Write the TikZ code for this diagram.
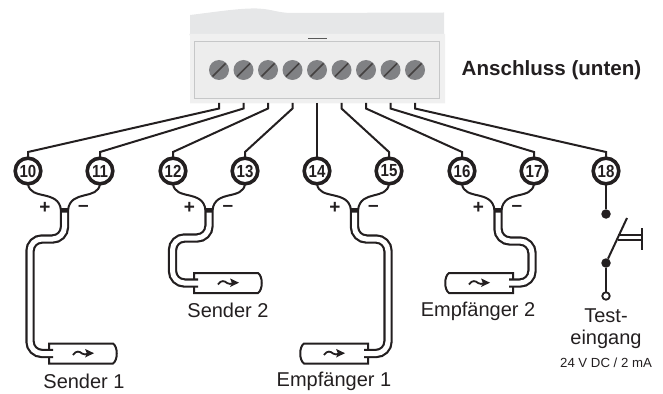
\documentclass[tikz,border=0pt]{standalone}
\usepackage{fontspec}
\setmainfont{Liberation Sans}
\definecolor{boxtop}{HTML}{E6E7E8}
\definecolor{boxbase}{HTML}{F0F0F0}
\definecolor{boxin}{HTML}{EDEDED}
\definecolor{boxedge}{HTML}{C6C7C8}
\definecolor{screwc}{HTML}{808184}
\definecolor{ink}{HTML}{231F20}
\tikzset{
  wire/.style={draw=ink,line width=2pt},
  term/.style={circle,draw=ink,fill=white,line width=3.6pt,minimum size=25.6pt,inner sep=0pt,outer sep=0pt,font=\fontsize{17.5}{17.5}\selectfont\bfseries,text=ink},
  screw/.style={circle,fill=screwc,minimum size=20pt,inner sep=0pt,outer sep=0pt},
  slot/.style={draw=ink!85,line width=1.5pt},
  label/.style={font=\fontsize{20}{20}\selectfont,text=ink,inner sep=0pt},
  small/.style={font=\fontsize{13.2}{13.2}\selectfont,text=ink,inner sep=0pt},
  pol/.style={font=\fontsize{19}{19}\selectfont\bfseries,text=ink,inner sep=0pt},
  bodyline/.style={draw=ink,line width=2pt,fill=white},
  dotb/.style={circle,fill=ink,minimum size=9.5pt,inner sep=0pt,outer sep=0pt},
  doto/.style={circle,draw=ink,fill=white,line width=1.8pt,minimum size=7.5pt,inner sep=0pt,outer sep=0pt},
  cableo/.style={draw=ink,line width=9.4pt,rounded corners=12pt},
  cablei/.style={draw=white,line width=5pt,rounded corners=12pt}
}
\newcommand{\wavearrow}[2]{%
  \draw[draw=ink,line width=1.8pt] (#1-10,#2+1.5) .. controls (#1-7,#2-3.5) and (#1-3,#2-2) .. (#1-1,#2) .. controls (#1+1,#2+1.5) and (#1+3,#2+1) .. (#1+5,#2);
  \fill[ink] (#1+11,#2-0.3) -- (#1+2,#2-4.6) -- (#1+4,#2) -- (#1+2,#2+4) -- cycle;
}
\newcommand{\sensorL}[2]{% opening at the left, round end at the right; #1 = centre x, #2 = centre y
  \draw[bodyline] (#1-34,#2-3) -- (#1-34,#2-10) -- (#1+30,#2-10) .. controls (#1+35,#2-7) and (#1+35,#2+7) .. (#1+30,#2+10) -- (#1-34,#2+10) -- (#1-34,#2+3);
  \wavearrow{#1}{#2}
}
\newcommand{\sensorR}[2]{% opening at the right, round end at the left
  \draw[bodyline] (#1+34,#2-3) -- (#1+34,#2-10) -- (#1-30,#2-10) .. controls (#1-35,#2-7) and (#1-35,#2+7) .. (#1-30,#2+10) -- (#1+34,#2+10) -- (#1+34,#2+3);
  \wavearrow{#1}{#2}
}
\begin{document}
\begin{tikzpicture}[x=1pt,y=-1pt]
\useasboundingbox (0,0) rectangle (663,393);
% housing
\fill[boxtop] (190,15) .. controls (215,12) and (240,8) .. (257,8.5) .. controls (272,9) and (278,13) .. (292,13) -- (444,12.5) -- (444,36) -- (190,36) -- cycle;
\fill[boxbase] (189,34) -- (445,34) -- (445,103.5) -- (190,103.5) -- (190,36) -- cycle;
\draw[boxedge,fill=boxin,line width=1pt] (194.5,42) rectangle (439.5,98.5);
\draw[draw=black!65,line width=1.5pt] (308,38.7) -- (326.5,38.7);
% screws
\foreach \i/\x in {0/219,1/243.5,2/268,3/292.5,4/317,5/341.5,6/366,7/390.5,8/415}{
  \node[screw] (s\i) at (\x,70) {};
  \draw[slot] (\x-6.5,76.5) -- (\x+6.5,63.5);
  \coordinate (p\i) at (\x,103);
  \coordinate (b\i) at (\x,108.5);
}
% terminals
\foreach \n/\x in {10/28,11/100,12/173,13/245,14/317,15/389,16/462,17/534,18/606}{
  \node[term] (t\n) at (\x,171) {\scalebox{.86}[1]{\n}};
  \coordinate (q\n) at (\x,152);
}
\foreach \i/\n in {0/10,1/11,2/12,3/13,5/15,6/16,7/17,8/18}{
  \draw[wire] (p\i) -- (b\i) -- (q\n) -- (t\n.north);
}
\draw[wire] (p4) -- (t14.north);
% sensors
\sensorL{83}{353.5}
\sensorL{228}{283}
\sensorR{334}{353.5}
\sensorR{479}{283}
% cables
\coordinate (c1) at (64.5,208); \coordinate (c1i) at (64.5,212.5);
\coordinate (c2) at (209,208);  \coordinate (c2i) at (209,212.5);
\coordinate (c3) at (354.5,208); \coordinate (c3i) at (354.5,212.5);
\coordinate (c4) at (498,208);  \coordinate (c4i) at (498,212.5);
% sensor 1
\draw[cableo] (c1) -- (64.5,239) -- (30,239) -- (30,353.5) -- (53,353.5);
\draw[cablei] (c1i) -- (64.5,239) -- (30,239) -- (30,353.5) -- (55,353.5);
% sensor 2
\draw[cableo] (c2) -- (209,238) -- (172.5,238) -- (172.5,283) -- (198,283);
\draw[cablei] (c2i) -- (209,238) -- (172.5,238) -- (172.5,283) -- (200,283);
% receiver 1
\draw[cableo] (c3) -- (354.5,239) -- (388,239) -- (388,353.5) -- (364,353.5);
\draw[cablei] (c3i) -- (354.5,239) -- (388,239) -- (388,353.5) -- (362,353.5);
% receiver 2
\draw[cableo] (c4) -- (498,241) -- (532,241) -- (532,283) -- (509,283);
\draw[cablei] (c4i) -- (498,241) -- (532,241) -- (532,283) -- (507,283);
% cable forks
\foreach \a/\b/\cc in {10/11/c1,12/13/c2,14/15/c3,16/17/c4}{
  \draw[wire] (t\a.south) .. controls +(2,17) and ([xshift=-6pt,yshift=19pt]\cc) .. ([xshift=-3.5pt,yshift=-2pt]\cc);
  \draw[wire] (t\b.south) .. controls +(-2,17) and ([xshift=6pt,yshift=19pt]\cc) .. ([xshift=3.5pt,yshift=-2pt]\cc);
  \node[pol] at ([xshift=-19.5pt]\cc) {+};
  \node[pol] at ([xshift=19pt,yshift=-0.5pt]\cc) {–};
}
% switch
\node[dotb] (d1) at (606,214) {};
\node[dotb] (d2) at (606,263) {};
\node[doto] (d3) at (606,296) {};
\coordinate (sw) at (627,218);
\coordinate (bl1) at (618,235);
\coordinate (bl2) at (618,240);
\coordinate (bb) at (642,228);
\coordinate (bc) at (642,249.5);
\draw[wire] (t18.south) -- (d1);
\draw[wire] (d2) -- (sw);
\draw[wire] (d2) -- (d3);
\draw[draw=ink,line width=1.3pt] (bl1) -- (bl1-|bb);
\draw[draw=ink,line width=1.3pt] (bl2) -- (bl2-|bb);
\draw[draw=ink,line width=2.2pt] (bb) -- (bc);
% labels
\node[font=\fontsize{20.6}{20.6}\selectfont\bfseries,text=ink,inner sep=0pt] (anschl) at (551.5,70) {Anschluss (unten)};
\node[label] (l1) at (84,381) {Sender 1};
\node[label] (l2) at (228,310) {Sender 2};
\node[label] (l3) at (334,381) {Empfänger 1};
\node[label] (l4) at (478,311) {Empfänger 2};
\node[label] (l5) at (606,316) {Test-};
\node[label] (l6) at (606,339) {eingang};
\node[small] (l7) at (606,363) {24 V DC / 2 mA};
\end{tikzpicture}
\end{document}
